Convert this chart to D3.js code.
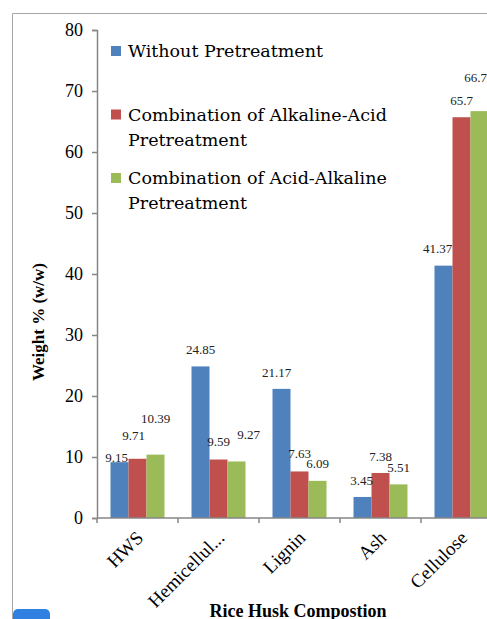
<!DOCTYPE html>
<html>
<head>
<meta charset="utf-8">
<script src="https://cdn.jsdelivr.net/npm/d3@7"></script>
<style>
    html, body { margin: 0; padding: 0; background: #ffffff; overflow: hidden; }
    svg { display: block; }
</style>
</head>
<body>
<div id="chart"></div>
<script>
// chart values
const categories = ['HWS', 'Hemicellul...', 'Lignin', 'Ash', 'Cellulose'];
const seriesNames = [
    ['Without Pretreatment'],
    ['Combination of Alkaline-Acid', 'Pretreatment'],
    ['Combination of Acid-Alkaline', 'Pretreatment']
];
const withoutPretreatment = [9.15, 24.85, 21.17, 3.45, 41.37];
const alkalineAcid = [9.71, 9.59, 7.63, 7.38, 65.7];
const acidAlkaline = [10.39, 9.27, 6.09, 5.51, 66.7];
const yTicks = [0, 10, 20, 30, 40, 50, 60, 70, 80];
const seriesColors = ['#4f81bd', '#c0504d', '#9bbb59'];

// data labels were dragged around by hand in the original, so nudge them [dx, dy]
const labelNudge = [
    [[-3, 12], [0, 0], [-5, 0], [-1, 0], [-6, -1]],
    [[-4, -7], [0, -2], [0, -1], [0, 0], [0, 0]],
    [[0, -20], [12, -10], [0, -1], [0, 0], [-4, -17]]
];

const width = 487;
const height = 619;

const svg = d3.select('#chart')
    .append('svg')
    .attr('width', width)
    .attr('height', height);

// frame of the chart area (only top and left visible)
svg.append('path')
    .attr('d', 'M12.5,' + height + ' V13.5 H' + width)
    .attr('fill', 'none')
    .attr('stroke', '#a6a6a6')
    .attr('stroke-width', 1);

// plot area
const plot = { left: 97, right: 502, top: 30, bottom: 518 };

const x0 = d3.scaleBand()
    .domain(categories)
    .range([plot.left, plot.right])
    .paddingInner(0)
    .paddingOuter(0);

const x1 = d3.scaleBand()
    .domain([0, 1, 2])
    .range([0, x0.bandwidth()])
    .paddingInner(0)
    .paddingOuter(0.75);

const y = d3.scaleLinear()
    .domain([0, 80])
    .range([plot.bottom, plot.top]);

const series = [withoutPretreatment, alkalineAcid, acidAlkaline];

// bars
const gBars = svg.append('g').attr('class', 'bars');
series.forEach(function(values, si) {
    gBars.selectAll('rect.s' + si)
        .data(values)
        .join('rect')
        .attr('class', 's' + si)
        .attr('x', function(d, i) { return x0(categories[i]) + x1(si); })
        .attr('y', function(d) { return y(d); })
        .attr('width', x1.bandwidth())
        .attr('height', function(d) { return y(0) - y(d); })
        .attr('fill', seriesColors[si]);
});

// y axis
const yAxis = d3.axisLeft(y)
    .tickValues(yTicks)
    .tickSize(5)
    .tickPadding(9)
    .tickFormat(d3.format('d'));

const gy = svg.append('g')
    .attr('transform', 'translate(' + plot.left + ',0)')
    .call(yAxis);
gy.select('.domain').attr('stroke', '#868686').attr('stroke-width', 1.5);
gy.selectAll('.tick line').attr('stroke', '#868686').attr('stroke-width', 1.5);
gy.selectAll('.tick text')
    .attr('fill', '#000')
    .style('font-family', '"Liberation Serif", serif')
    .style('font-size', '18px');

// x axis, ticks at category boundaries
const gx = svg.append('g').attr('class', 'x-axis');
gx.append('line')
    .attr('x1', plot.left).attr('x2', plot.right)
    .attr('y1', y(0)).attr('y2', y(0))
    .attr('stroke', '#868686').attr('stroke-width', 1.5);
gx.selectAll('line.xtick')
    .data(categories.concat(['end']))
    .join('line')
    .attr('class', 'xtick')
    .attr('x1', function(d, i) { return plot.left + i * x0.step(); })
    .attr('x2', function(d, i) { return plot.left + i * x0.step(); })
    .attr('y1', y(0))
    .attr('y2', y(0) + 5)
    .attr('stroke', '#868686').attr('stroke-width', 1.5);
gx.selectAll('text')
    .data(categories)
    .join('text')
    .attr('transform', function(d) {
        const cx = x0(d) + x0.bandwidth() / 2;
        return 'translate(' + (cx + 7) + ',' + (y(0) + 21) + ') rotate(-45)';
    })
    .attr('text-anchor', 'end')
    .attr('fill', '#000')
    .style('font-family', '"Liberation Serif", serif')
    .style('font-size', '19px')
    .text(function(d) { return d; });

// data labels
const gLabels = svg.append('g').attr('class', 'labels');
series.forEach(function(values, si) {
    gLabels.selectAll('text.s' + si)
        .data(values)
        .join('text')
        .attr('class', 's' + si)
        .attr('x', function(d, i) {
            return x0(categories[i]) + x1(si) + x1.bandwidth() / 2 + labelNudge[si][i][0];
        })
        .attr('y', function(d, i) { return y(d) - 12 + labelNudge[si][i][1]; })
        .attr('text-anchor', 'middle')
        .style('font-family', '"Liberation Serif", serif')
        .style('font-size', '13px')
        .attr('fill', '#222')
        .text(function(d) { return d; });
});

// legend
const legendBaselines = [57, 120.5, 184];
const legend = svg.append('g').attr('class', 'legend');
seriesNames.forEach(function(lines, si) {
    const g = legend.append('g');
    g.append('rect')
        .attr('x', 111)
        .attr('y', legendBaselines[si] - 11)
        .attr('width', 10)
        .attr('height', 10)
        .attr('fill', seriesColors[si]);
    g.selectAll('text')
        .data(lines)
        .join('text')
        .attr('x', 128)
        .attr('y', function(d, i) { return legendBaselines[si] + i * 25; })
        .style('font-family', '"DejaVu Serif", serif')
        .style('font-size', '17.5px')
        .attr('fill', '#000')
        .text(function(d) { return d; });
});

// axis titles
svg.append('text')
    .attr('transform', 'translate(44,322) rotate(-90)')
    .attr('text-anchor', 'middle')
    .style('font-family', '"Liberation Serif", serif')
    .style('font-weight', 'bold')
    .style('font-size', '17px')
    .text('Weight % (w/w)');

svg.append('text')
    .attr('x', 298)
    .attr('y', 617)
    .attr('text-anchor', 'middle')
    .style('font-family', '"Liberation Serif", serif')
    .style('font-weight', 'bold')
    .style('font-size', '18px')
    .text('Rice Husk Compostion');

// blue button peeking at the bottom-left corner
svg.append('rect')
    .attr('x', 13)
    .attr('y', 609)
    .attr('width', 37)
    .attr('height', 20)
    .attr('rx', 5)
    .attr('fill', '#2f80e0');
</script>
</body>
</html>
